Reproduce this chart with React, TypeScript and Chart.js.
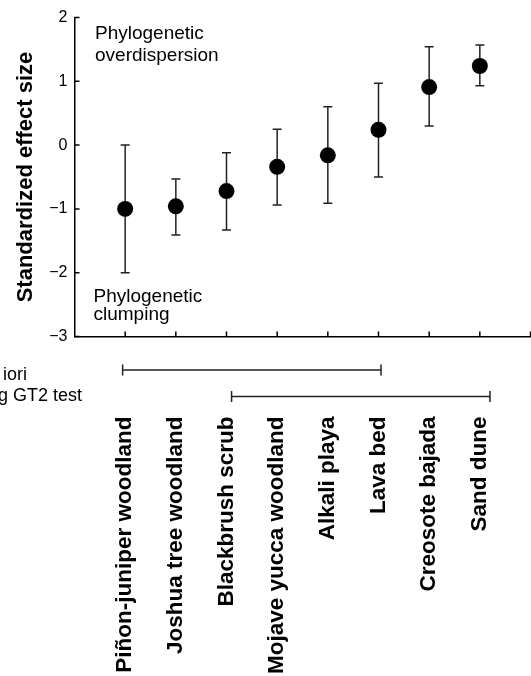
import React, { useEffect, useRef } from 'react';
import { Chart, registerables } from 'chart.js';

Chart.register(...registerables);

// ---- data ----
const categories = [
  'Piñon-juniper woodland',
  'Joshua tree woodland',
  'Blackbrush scrub',
  'Mojave yucca woodland',
  'Alkali playa',
  'Lava bed',
  'Creosote bajada',
  'Sand dune',
];
const effectSize = [-1.0, -0.96, -0.72, -0.34, -0.16, 0.24, 0.91, 1.24];
const upperLimit = [0.0, -0.53, -0.12, 0.25, 0.6, 0.97, 1.54, 1.57];
const lowerLimit = [-2.0, -1.41, -1.33, -0.94, -0.91, -0.5, 0.3, 0.93];
const yTickValues = [2, 1, 0, -1, -2, -3];
const groupRanges: [number, number][] = [
  [0.95, 6.05],
  [3.1, 8.2],
];
const groupLabels = ['iori', 'g GT2 test'];
const topNote = ['Phylogenetic', 'overdispersion'];
const bottomNote = ['Phylogenetic', 'clumping'];
const yTitle = 'Standardized effect size';

const FONT = "'Liberation Sans', Arial, Helvetica, sans-serif";

const overlayPlugin = {
  id: 'overlay',
  beforeDatasetsDraw(chart: any) {
    const { ctx, scales } = chart;
    const x = scales.x;
    const y = scales.y;
    ctx.save();
    ctx.strokeStyle = '#222';
    ctx.lineWidth = 1.5;
    const cap = 4.5;
    effectSize.forEach((_, i) => {
      const px = x.getPixelForValue(i + 1);
      const top = y.getPixelForValue(upperLimit[i]);
      const bot = y.getPixelForValue(lowerLimit[i]);
      ctx.beginPath();
      ctx.moveTo(px, top);
      ctx.lineTo(px, bot);
      ctx.moveTo(px - cap, top);
      ctx.lineTo(px + cap, top);
      ctx.moveTo(px - cap, bot);
      ctx.lineTo(px + cap, bot);
      ctx.stroke();
    });
    ctx.restore();
  },
  afterDraw(chart: any) {
    const { ctx, scales, chartArea } = chart;
    const x = scales.x;
    const y = scales.y;
    ctx.save();
    // inward ticks
    ctx.strokeStyle = '#000';
    ctx.lineWidth = 1.5;
    ctx.beginPath();
    yTickValues.forEach((v) => {
      const py = y.getPixelForValue(v);
      ctx.moveTo(chartArea.left, py);
      ctx.lineTo(chartArea.left + 5, py);
    });
    for (let i = 1; i <= categories.length + 1; i++) {
      const px = x.getPixelForValue(i);
      ctx.moveTo(px, chartArea.bottom);
      ctx.lineTo(px, chartArea.bottom - 5);
    }
    ctx.stroke();

    // notes
    ctx.fillStyle = '#000';
    ctx.font = `19px ${FONT}`;
    ctx.textAlign = 'left';
    ctx.textBaseline = 'alphabetic';
    ctx.fillText(topNote[0], chartArea.left + 20.5, 39);
    ctx.fillText(topNote[1], chartArea.left + 20.5, 61);
    ctx.fillText(bottomNote[0], chartArea.left + 19, 302);
    ctx.fillText(bottomNote[1], chartArea.left + 19, 320);

    // group ranges
    const rangeY = [370, 396.5];
    ctx.strokeStyle = '#222';
    ctx.lineWidth = 1.5;
    groupRanges.forEach(([a, b], k) => {
      const x1 = x.getPixelForValue(a);
      const x2 = x.getPixelForValue(b);
      const yy = rangeY[k];
      ctx.beginPath();
      ctx.moveTo(x1, yy);
      ctx.lineTo(x2, yy);
      ctx.moveTo(x1, yy - 5.5);
      ctx.lineTo(x1, yy + 5.5);
      ctx.moveTo(x2, yy - 5.5);
      ctx.lineTo(x2, yy + 5.5);
      ctx.stroke();
    });
    ctx.font = `18px ${FONT}`;
    ctx.textAlign = 'right';
    ctx.fillText(groupLabels[0], 27, 380);
    ctx.fillText(groupLabels[1], 82, 401);
    ctx.restore();
  },
};

export default function App() {
  const ref = useRef<HTMLCanvasElement>(null);
  useEffect(() => {
    if (!ref.current) return;
    const chart = new Chart(ref.current, {
      type: 'scatter',
      data: {
        datasets: [
          {
            data: effectSize.map((v, i) => ({ x: i + 1, y: v })),
            backgroundColor: '#000',
            borderColor: '#000',
            borderWidth: 0,
            pointRadius: 8,
            pointHoverRadius: 8,
          },
        ],
      },
      options: {
        animation: false,
        responsive: false,
        devicePixelRatio: 1,
        events: [],
        layout: { autoPadding: false, padding: { top: 17.5, right: 0.5, bottom: 0, left: 0 } },
        plugins: {
          legend: { display: false },
          tooltip: { enabled: false },
        },
        scales: {
          x: {
            type: 'linear',
            min: 0,
            max: 9,
            grid: { display: false, drawTicks: false },
            border: { display: true, color: '#000', width: 1.5 },
            afterBuildTicks: (scale: any) => {
              scale.ticks = categories.map((_, i) => ({ value: i + 1 }));
            },
            afterFit: (scale: any) => {
              scale.height = 339.5;
              scale.paddingLeft = 0;
              scale.paddingRight = 0;
            },
            ticks: {
              autoSkip: false,
              minRotation: 90,
              maxRotation: 90,
              padding: 80,
              color: '#000',
              font: { family: FONT, size: 22.5, weight: 'bold' },
              callback: (v: any) => categories[Math.round(v) - 1] ?? '',
            },
          },
          y: {
            type: 'linear',
            min: -3,
            max: 2,
            grid: { display: false, drawTicks: false },
            border: { display: true, color: '#000', width: 1.5 },
            afterBuildTicks: (scale: any) => {
              scale.ticks = yTickValues.map((v) => ({ value: v }));
            },
            afterFit: (scale: any) => {
              scale.width = 74.5;
              scale.paddingTop = 0;
              scale.paddingBottom = 0;
            },
            ticks: {
              padding: 7,
              color: '#000',
              font: { family: FONT, size: 16 },
              callback: (v: any) => (v < 0 ? '\u2212' + Math.abs(v) : String(v)),
            },
            title: {
              display: true,
              text: yTitle,
              color: '#000',
              font: { family: FONT, size: 22, weight: 'bold' },
              padding: { top: 13, bottom: 0 },
            },
          },
        },
      },
      plugins: [overlayPlugin],
    });
    return () => chart.destroy();
  }, []);
  return (
    <div style={{ position: 'absolute', left: 0, top: 0, width: 531, height: 676 }}>
      <canvas ref={ref} width={531} height={676} style={{ display: 'block' }} />
    </div>
  );
}
